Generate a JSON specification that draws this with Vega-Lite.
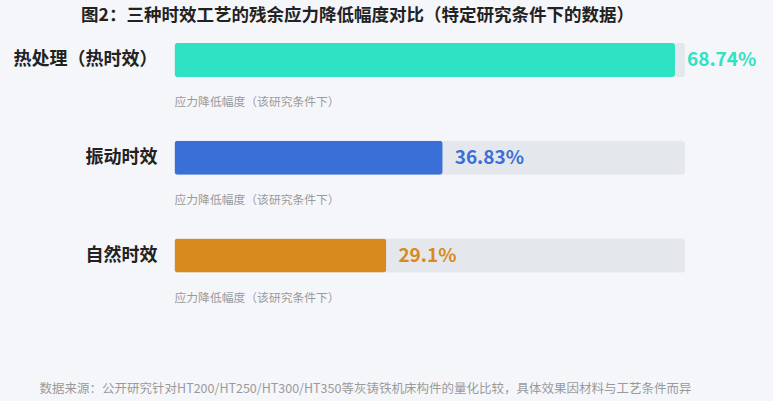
{
  "$schema": "https://vega.github.io/schema/vega-lite/v6.json",
  "width": 773,
  "height": 401,
  "autosize": {"type": "none"},
  "padding": 0,
  "background": "#f5f6fa",
  "config": {
    "view": {"stroke": null},
    "font": "Noto Sans CJK SC"
  },
  "title": {
    "text": "图2：三种时效工艺的残余应力降低幅度对比（特定研究条件下的数据）",
    "fontSize": 17.5,
    "fontWeight": "bold",
    "color": "#222222",
    "anchor": "middle",
    "frame": "group",
    "offset": -24,
    "dx": -29
  },
  "data": {
    "values": [
      {"method": "热处理（热时效）", "value": 68.74, "note": "应力降低幅度（该研究条件下）"},
      {"method": "振动时效", "value": 36.83, "note": "应力降低幅度（该研究条件下）"},
      {"method": "自然时效", "value": 29.1, "note": "应力降低幅度（该研究条件下）"}
    ]
  },
  "transform": [{"calculate": "datum.value + '%'", "as": "pct"}],
  "encoding": {
    "y": {
      "field": "method",
      "type": "nominal",
      "sort": null,
      "scale": {
        "domain": ["热处理（热时效）", "振动时效", "自然时效"],
        "range": [11.13, 304.4],
        "paddingInner": 0.652,
        "paddingOuter": 0.326
      },
      "axis": null
    }
  },
  "layer": [
    {
      "mark": {"type": "bar", "color": "#e4e7eb", "cornerRadius": 3},
      "encoding": {
        "x": {
          "datum": 0,
          "type": "quantitative",
          "scale": {"domain": [0, 70.11], "range": [174.5, 685], "nice": false, "zero": false},
          "axis": {
            "title": "数据来源：公开研究针对HT200/HT250/HT300/HT350等灰铸铁机床构件的量化比较，具体效果因材料与工艺条件而异",
            "labels": false,
            "ticks": false,
            "domain": false,
            "grid": false,
            "titleFontSize": 12.5,
            "titleFontWeight": "normal",
            "titleColor": "#9a9a9a",
            "titleBaseline": "middle",
            "titleX": 365,
            "titleY": -13
          }
        },
        "x2": {"datum": 70.11}
      }
    },
    {
      "mark": {"type": "bar", "cornerRadius": 3},
      "encoding": {
        "x": {"field": "value", "type": "quantitative"},
        "color": {
          "field": "method",
          "type": "nominal",
          "legend": null,
          "scale": {
            "domain": ["热处理（热时效）", "振动时效", "自然时效"],
            "range": ["#2ee2c4", "#3a6fd8", "#d98a1e"]
          }
        }
      }
    },
    {
      "mark": {"type": "text", "align": "left", "baseline": "middle", "dx": 12, "fontSize": 19, "fontWeight": "bold"},
      "encoding": {
        "x": {"field": "value", "type": "quantitative"},
        "text": {"field": "pct"},
        "color": {"field": "method", "type": "nominal", "legend": null}
      }
    },
    {
      "mark": {"type": "text", "align": "right", "baseline": "middle", "dx": -17, "fontSize": 18, "fontWeight": "bold", "color": "#222222"},
      "encoding": {
        "x": {"datum": 0, "type": "quantitative"},
        "text": {"field": "method"}
      }
    },
    {
      "mark": {"type": "text", "align": "left", "baseline": "middle", "dx": 0, "dy": 42, "fontSize": 11.8, "color": "#9a9a9a"},
      "encoding": {
        "x": {"datum": 0, "type": "quantitative"},
        "text": {"field": "note"}
      }
    }
  ]
}
